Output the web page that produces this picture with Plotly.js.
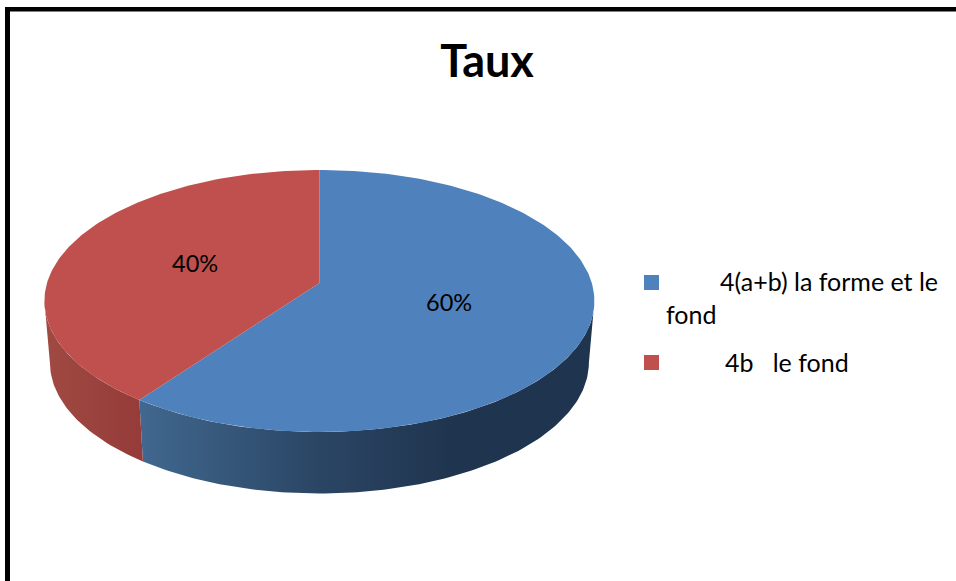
<!DOCTYPE html>
<html><head><meta charset="utf-8">
<script src="https://cdn.plot.ly/plotly-3.0.1.min.js"></script>
<style>html,body{margin:0;padding:0;background:#fff}#c{width:956px;height:581px}</style>
</head><body><div id="c"></div>
<script>
const categories = ["4(a+b) la forme et le fond", "4b\u00a0\u00a0\u00a0le fond"];
const legendLines = [["4(a+b) la forme et le", "fond"], ["4b\u00a0\u00a0\u00a0le fond"]];
const values = [60, 40];
const titleText = "Taux";
const topColors = ["#4f81bd", "#c0504d"];
const FONT = "Lato, Carlito, 'Open Sans', sans-serif";

// projective view of the pie disc (paper pixels)
const CX = 319.4, CY = 283, A = 272.4, B = 89.8, K = -0.137, DEPTH = 61.5, TAPER = 0.98;
const project = (deg, f = 1) => {
  const th = deg * Math.PI / 180, s = f * Math.sin(th), t = -f * Math.cos(th), d = 1 + K * t;
  return [CX + A * s / d, (B * t + CY) / d];
};
const lower = ([x, y]) => [CX + (x - CX) * TAPER, y + DEPTH];
const arc = (a, b) => { const p = []; const n = Math.max(2, Math.ceil(Math.abs(b - a))); for (let i = 0; i <= n; i++) p.push(a + (b - a) * i / n); return p; };

const total = values.reduce((a, b) => a + b, 0);
const angles = [0];
values.forEach(v => angles.push(angles[angles.length - 1] + v / total * 360));

const base = {type: "scatter", mode: "lines", line: {width: 0}, fill: "toself", hoverinfo: "skip", showlegend: false};
const wallTrace = (name, a, b, scale) => {
  const top = arc(a, b).map(d => project(d));
  const bot = arc(a, b).reverse().map(d => lower(project(d)));
  const pts = top.concat(bot);
  return Object.assign({}, base, {name, x: pts.map(p => p[0]), y: pts.map(p => p[1]),
    fillgradient: {type: "horizontal", colorscale: scale}});
};
const seam = angles[1];
const rightEdge = 90 + 8, leftEdge = 270 - 8;
const traces = [
  wallTrace(categories[0] + " (side)", rightEdge, seam, [[0, "#41688f"], [0.4, "#2a4564"], [0.7, "#1f344e"], [1, "#1f344e"]]),
  wallTrace(categories[1] + " (side)", seam, leftEdge, [[0, "#a04a42"], [1, "#953b39"]]),
];
values.forEach((v, i) => {
  const pts = [[CX, CY]].concat(arc(angles[i], angles[i + 1]).map(d => project(d))).concat([[CX, CY]]);
  traces.push(Object.assign({}, base, {name: categories[i], x: pts.map(p => p[0]), y: pts.map(p => p[1]), fillcolor: topColors[i]}));
});
// legend swatches
const legendY = [282.5, 362.5];
traces.push({type: "scatter", mode: "markers", x: [651.5, 651.5], y: legendY, hoverinfo: "skip", showlegend: false,
  marker: {symbol: "square", size: 15, color: topColors, line: {width: 0}}});

const annotations = values.map((v, i) => {
  const p = project((angles[i] + angles[i + 1]) / 2, 0.49);
  return {x: p[0], y: p[1] - 1, xref: "x", yref: "y", text: v + "%", showarrow: false, xanchor: "center", yanchor: "middle",
    font: {family: FONT, size: 23.5, color: "#000"}};
});
const leg = (text, x, y) => ({x, y, xref: "x", yref: "y", text, showarrow: false, xanchor: "left", yanchor: "middle",
  font: {family: FONT, size: 25, color: "#000"}});
annotations.push(leg(legendLines[0][0], 718, 281), leg(legendLines[0][1], 664, 314), leg(legendLines[1][0], 723, 362));

const layout = {
  width: 956, height: 581, margin: {l: 0, r: 0, t: 0, b: 0}, showlegend: false,
  paper_bgcolor: "#fff", plot_bgcolor: "#fff",
  title: {text: "<b>" + titleText + "</b>", x: 487 / 956, xanchor: "center", xref: "paper", y: 1 - 61 / 581, yanchor: "middle", yref: "paper",
    font: {family: FONT, size: 45, color: "#000"}},
  xaxis: {range: [0, 956], visible: false, fixedrange: true},
  yaxis: {range: [581, 0], visible: false, fixedrange: true},
  annotations,
  shapes: [
    {type: "rect", xref: "x", yref: "y", x0: 5, x1: 10, y0: 7, y1: 581, fillcolor: "#000", line: {width: 0}},
    {type: "rect", xref: "x", yref: "y", x0: 5, x1: 956, y0: 7, y1: 11.5, fillcolor: "#000", line: {width: 0}},
  ],
};
Plotly.newPlot("c", traces, layout, {displayModeBar: false, staticPlot: true});
</script></body></html>
